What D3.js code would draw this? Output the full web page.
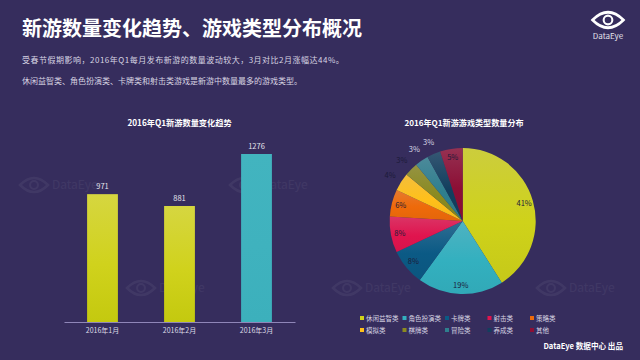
<!DOCTYPE html>
<html>
<head>
<meta charset="utf-8">
<script src="https://cdn.jsdelivr.net/npm/d3@7"></script>
<style>
  html, body { margin: 0; padding: 0; background: #362d5d; }
  svg { display: block; }
  text { font-family: "Noto Sans CJK SC", "Noto Sans", sans-serif; }
</style>
</head>
<body>
<div id="plot"></div>
<script>
const months = ["2016年1月", "2016年2月", "2016年3月"];
const monthValues = [971, 881, 1276];

const gameTypes = ["休闲益智类", "角色扮演类", "卡牌类", "射击类", "策略类", "模拟类", "棋牌类", "冒险类", "养成类", "其他"];
const typeShares = [41, 19, 8, 8, 6, 4, 3, 3, 3, 5];
const typeColors = ["#cfd21a", "#33b0bf", "#0b5a85", "#e0144e", "#ee6a0a", "#ffc01a", "#8a8a20", "#2f7f8e", "#123f5e", "#8c0f35"];

const titleText = "新游数量变化趋势、游戏类型分布概况";
const introLines = [
  "受春节假期影响，2016年Q1每月发布新游的数量波动较大，3月对比2月涨幅达44%。",
  "休闲益智类、角色扮演类、卡牌类和射击类游戏是新游中数量最多的游戏类型。"
];
const watermarkSpots = [[20, 185], [230, 185], [127, 288], [333, 288], [537, 288]];

const svg = d3.select("div#plot")
  .append("svg")
    .attr("width", 640)
    .attr("height", 360);

const defs = svg.append("defs");

svg.append("rect")
  .attr("width", 640)
  .attr("height", 360)
  .attr("fill", "#362d5d");

// little eye used for the logo and for the faint watermarks
function drawEye(g, cx, cy, w, color, sw) {
  const h = w * 0.5;
  const eye = d3.path();
  eye.moveTo(cx - w / 2, cy);
  eye.quadraticCurveTo(cx, cy - h, cx + w / 2, cy);
  eye.quadraticCurveTo(cx, cy + h, cx - w / 2, cy);
  eye.closePath();
  g.append("path")
    .attr("d", eye.toString())
    .attr("fill", "none")
    .attr("stroke", color)
    .attr("stroke-width", sw);
  g.append("circle")
    .attr("cx", cx)
    .attr("cy", cy)
    .attr("r", w * 0.14)
    .attr("fill", "none")
    .attr("stroke", color)
    .attr("stroke-width", sw * 0.8);
}

const marks = svg.append("g").attr("opacity", 0.05);
watermarkSpots.forEach(([x, y]) => {
  drawEye(marks, x + 14, y, 28, "#ffffff", 2.5);
  marks.append("text")
    .attr("x", x + 32)
    .attr("y", y + 4)
    .attr("fill", "#ffffff")
    .style("font-size", "12px")
    .text("DataEye");
});

// header
svg.append("text")
  .attr("x", 22)
  .attr("y", 36)
  .attr("fill", "#ffffff")
  .style("font-size", "20px")
  .style("font-weight", "700")
  .text(titleText);

svg.selectAll(".intro")
  .data(introLines)
  .enter()
  .append("text")
    .attr("class", "intro")
    .attr("x", 22)
    .attr("y", (d, i) => 63 + i * 21)
    .attr("fill", "#d6d4e2")
    .style("font-size", "8px")
    .style("letter-spacing", (d, i) => i === 0 ? "0.5px" : null)
    .text(d => d);

drawEye(svg.append("g"), 608, 20, 31, "#ffffff", 2.6);
svg.append("text")
  .attr("x", 608)
  .attr("y", 39)
  .attr("text-anchor", "middle")
  .attr("fill", "#e4e3ec")
  .style("font-size", "8px")
  .text("DataEye");

// bar chart
const xScale = d3.scaleBand()
  .domain(months)
  .range([64, 295])
  .paddingInner(0.6)
  .paddingOuter(0.3);

const yScale = d3.scaleLinear()
  .domain([0, 1276])
  .range([322, 154]);

const vertFill = (id, top, mid, bottom) => {
  const grad = defs.append("linearGradient")
    .attr("id", id)
    .attr("x1", 0).attr("y1", 0)
    .attr("x2", 0).attr("y2", 1);
  grad.append("stop").attr("offset", "0%").attr("stop-color", top);
  grad.append("stop").attr("offset", "55%").attr("stop-color", mid);
  grad.append("stop").attr("offset", "100%").attr("stop-color", bottom);
  return `url(#${id})`;
};
const limeFill = vertFill("lime", "#d6d640", "#d0d21c", "#c4c90f");
const tealFill = vertFill("teal", "#42b4bf", "#3fb2be", "#3cb0bc");

svg.append("text")
  .attr("x", 179.5)
  .attr("y", 126)
  .attr("text-anchor", "middle")
  .attr("fill", "#ffffff")
  .style("font-size", "8.2px")
  .style("font-weight", "700")
  .text("2016年Q1新游数量变化趋势");

svg.selectAll(".bar")
  .data(monthValues)
  .enter()
  .append("rect")
    .attr("class", "bar")
    .attr("x", (d, i) => xScale(months[i]))
    .attr("y", d => yScale(d))
    .attr("width", xScale.bandwidth())
    .attr("height", d => yScale(0) - yScale(d))
    .attr("fill", (d, i) => i === 2 ? tealFill : limeFill);

svg.selectAll(".bar-label")
  .data(monthValues)
  .enter()
  .append("text")
    .attr("class", "bar-label")
    .attr("x", (d, i) => xScale(months[i]) + xScale.bandwidth() / 2)
    .attr("y", d => yScale(d) - 5)
    .attr("text-anchor", "middle")
    .attr("fill", "#e4e3ec")
    .style("font-size", "7.5px")
    .text(d => d);

const xAxis = svg.append("g")
  .attr("transform", `translate(0, ${yScale(0)})`)
  .call(d3.axisBottom(xScale).tickSize(0).tickPadding(6));
xAxis.select(".domain").attr("stroke", "#8f86b8");
xAxis.selectAll("text")
  .attr("fill", "#dcdbe6")
  .style("font-size", "7px")
  .style("font-family", "\"Noto Sans CJK SC\", sans-serif");

// pie chart
const pieCenter = [462.7, 221];
const pieRadius = 73;

svg.append("text")
  .attr("x", 464)
  .attr("y", 126)
  .attr("text-anchor", "middle")
  .attr("fill", "#ffffff")
  .style("font-size", "8.1px")
  .style("font-weight", "700")
  .text("2016年Q1新游游戏类型数量分布");

const pie = d3.pie().sort(null)(typeShares);
const arc = d3.arc().innerRadius(0).outerRadius(pieRadius);
const labelArc = d => {
  const r = d.data >= 5 ? 64 : 86;
  return d3.arc().innerRadius(r).outerRadius(r).centroid(d);
};

const pieG = svg.append("g")
  .attr("transform", `translate(${pieCenter[0]}, ${pieCenter[1]})`);

// each slice is lighter along its top edge, the excel glossy fill
typeColors.forEach((c, i) => {
  vertFill(`slice${i}`, d3.interpolateRgb(c, "#c0b8c8")(0.2), c, d3.color(c).darker(0.12));
});

pieG.selectAll(".slice")
  .data(pie)
  .enter()
  .append("path")
    .attr("class", "slice")
    .attr("d", arc)
    .attr("fill", (d, i) => `url(#slice${i})`);

pieG.selectAll(".slice-label")
  .data(pie)
  .enter()
  .append("text")
    .attr("class", "slice-label")
    .attr("transform", d => `translate(${labelArc(d)})`)
    .attr("text-anchor", "middle")
    .attr("dy", "0.35em")
    .attr("fill", (d, i) => i === 7 || i === 8 ? "#d9d7e6" : "#1c1a38")
    .style("font-size", "7.5px")
    .text(d => d.data + "%");

// legend, two rows of five
const legendX = d3.scalePoint().domain(d3.range(5)).range([360, 530]);
const legendY = d3.scalePoint().domain(d3.range(2)).range([318, 330]);

const legend = svg.selectAll(".legend")
  .data(gameTypes)
  .enter()
  .append("g")
    .attr("class", "legend")
    .attr("transform", (d, i) => `translate(${legendX(i % 5)}, ${legendY(Math.floor(i / 5))})`);

legend.append("rect")
  .attr("y", -2)
  .attr("width", 4)
  .attr("height", 4)
  .attr("fill", (d, i) => typeColors[i]);

legend.append("text")
  .attr("x", 6)
  .attr("y", 2.5)
  .attr("fill", "#d6d4e2")
  .style("font-size", "6.5px")
  .text(d => d);

svg.append("text")
  .attr("x", 623)
  .attr("y", 349)
  .attr("text-anchor", "end")
  .attr("fill", "#ffffff")
  .style("font-size", "7.6px")
  .style("font-weight", "700")
  .text("DataEye 数据中心 出品");
</script>
</body>
</html>
